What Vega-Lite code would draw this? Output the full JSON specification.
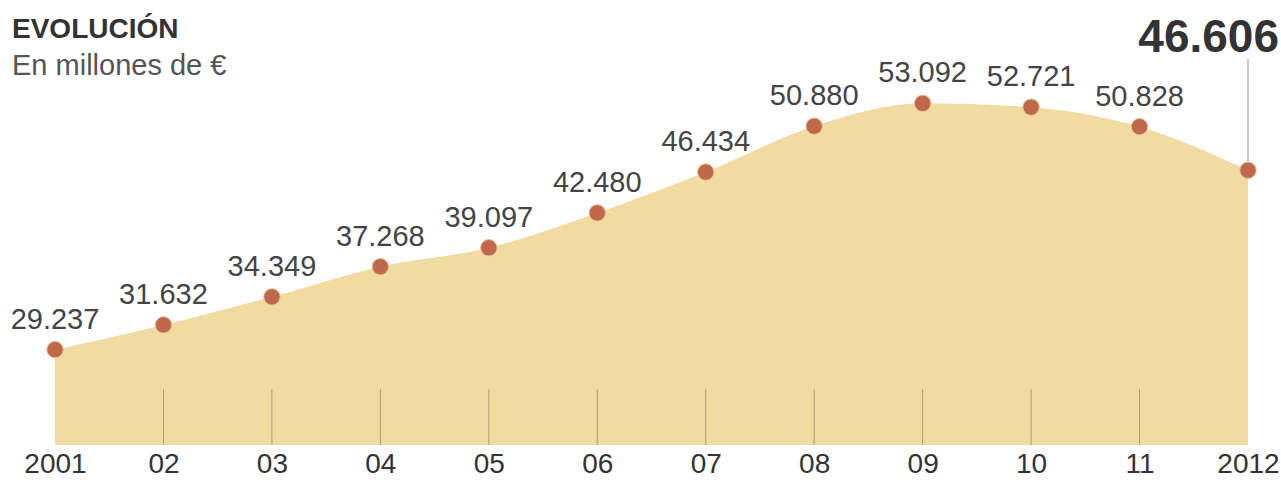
{
  "$schema": "https://vega.github.io/schema/vega-lite/v6.json",
  "width": 1193,
  "height": 413,
  "autosize": {"type": "none"},
  "padding": {"left": 55, "right": 33, "top": 32, "bottom": 35},
  "background": "white",
  "config": {
    "view": {"stroke": null},
    "font": "Liberation Sans"
  },
  "title": {
    "text": "EVOLUCIÓN",
    "subtitle": "En millones de €",
    "anchor": "start",
    "frame": "group",
    "dx": -43,
    "dy": 70,
    "font": "Liberation Sans",
    "fontSize": 28,
    "fontWeight": "bold",
    "color": "#333333",
    "subtitleFont": "Liberation Sans",
    "subtitleFontSize": 29,
    "subtitleColor": "#555555",
    "subtitlePadding": 8
  },
  "data": {
    "values": [
      {"year": 2001, "value": 29237, "label": "29.237"},
      {"year": 2002, "value": 31632, "label": "31.632"},
      {"year": 2003, "value": 34349, "label": "34.349"},
      {"year": 2004, "value": 37268, "label": "37.268"},
      {"year": 2005, "value": 39097, "label": "39.097"},
      {"year": 2006, "value": 42480, "label": "42.480"},
      {"year": 2007, "value": 46434, "label": "46.434"},
      {"year": 2008, "value": 50880, "label": "50.880"},
      {"year": 2009, "value": 53092, "label": "53.092"},
      {"year": 2010, "value": 52721, "label": "52.721"},
      {"year": 2011, "value": 50828, "label": "50.828"},
      {"year": 2012, "value": 46606, "label": "46.606"}
    ]
  },
  "encoding": {
    "x": {
      "field": "year",
      "type": "quantitative",
      "scale": {"domain": [2001, 2012], "nice": false, "zero": false},
      "axis": {
        "title": null,
        "values": [2001, 2002, 2003, 2004, 2005, 2006, 2007, 2008, 2009, 2010, 2011, 2012],
        "labelExpr": "datum.value == 2001 || datum.value == 2012 ? datum.value + '' : substring(datum.value + '', 2, 4)",
        "grid": false,
        "ticks": false,
        "domain": false,
        "labelFont": "Liberation Sans",
        "labelFontSize": 28,
        "labelColor": "#333333",
        "labelPadding": 5,
        "labelFlush": false,
        "labelOverlap": false
      }
    }
  },
  "layer": [
    {
      "mark": {"type": "area", "interpolate": "monotone", "color": "#f1dba1"},
      "encoding": {
        "y": {
          "field": "value",
          "type": "quantitative",
          "scale": {"domain": [20000, 60000], "nice": false, "zero": false},
          "axis": null
        },
        "y2": {"datum": 20000}
      }
    },
    {
      "transform": [{"filter": "datum.year > 2001 && datum.year < 2012"}],
      "mark": {"type": "rule", "color": "#b09c74", "strokeWidth": 1},
      "encoding": {
        "y": {"datum": 20000, "type": "quantitative"},
        "y2": {"datum": 25400}
      }
    },
    {
      "transform": [{"filter": "datum.year == 2012"}],
      "mark": {"type": "rule", "color": "#a8a8a8", "strokeWidth": 1.2},
      "encoding": {
        "y": {"field": "value", "type": "quantitative"},
        "y2": {"datum": 57400}
      }
    },
    {
      "mark": {"type": "point", "filled": true, "shape": "circle", "size": 270, "color": "#c0694a", "opacity": 1, "stroke": "#e9c09a", "strokeWidth": 1},
      "encoding": {
        "y": {"field": "value", "type": "quantitative"}
      }
    },
    {
      "transform": [{"filter": "datum.year < 2012"}],
      "mark": {"type": "text", "fontSize": 29, "font": "Liberation Sans", "color": "#444444", "baseline": "alphabetic", "dy": -21},
      "encoding": {
        "y": {"field": "value", "type": "quantitative"},
        "text": {"field": "label"}
      }
    },
    {
      "transform": [{"filter": "datum.year == 2012"}],
      "mark": {"type": "text", "fontSize": 46, "fontWeight": "bold", "font": "Liberation Sans", "color": "#333333", "baseline": "alphabetic", "align": "right", "dx": 31},
      "encoding": {
        "y": {"datum": 58100, "type": "quantitative"},
        "text": {"field": "label"}
      }
    }
  ]
}
